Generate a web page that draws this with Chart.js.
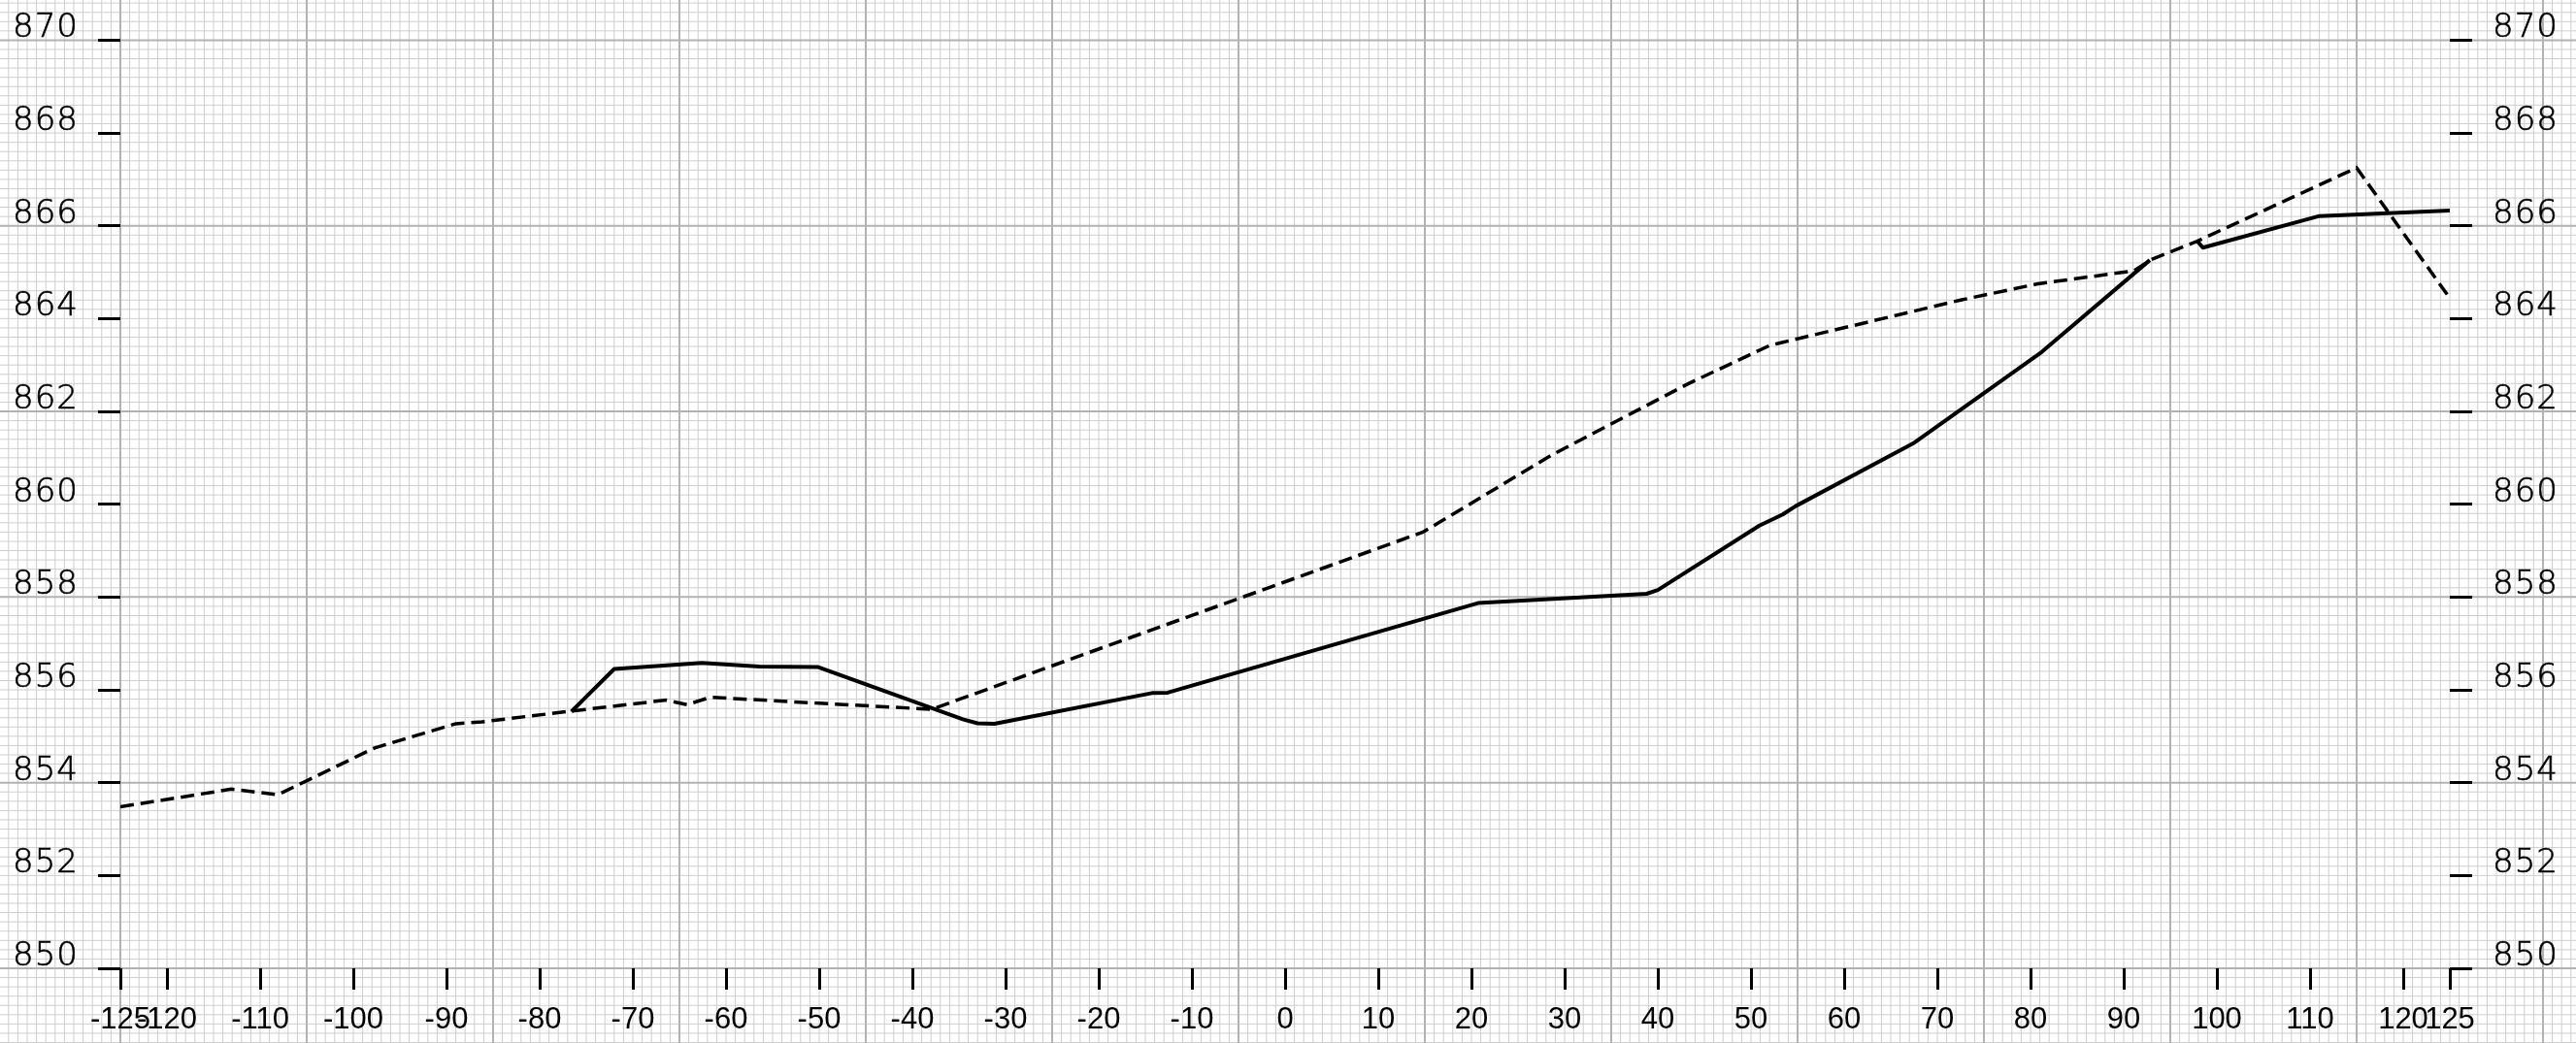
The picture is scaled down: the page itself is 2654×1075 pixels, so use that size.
<!DOCTYPE html>
<html>
<head>
<meta charset="utf-8">
<script src="https://cdn.jsdelivr.net/npm/chart.js@4.4.1/dist/chart.umd.min.js"></script>
<style>
  html, body { margin: 0; padding: 0; background: #fff; }
  #wrap { width: 2654px; height: 1075px; position: relative; }
</style>
</head>
<body>
<div id="wrap"><canvas id="c"></canvas></div>
<script>
// Perfil longitudinal — terreno (tracejado) e projeto (contínuo)
const X_TICKS = [-125, -120, -110, -100, -90, -80, -70, -60, -50, -40, -30, -20, -10, 0,
  10, 20, 30, 40, 50, 60, 70, 80, 90, 100, 110, 120, 125];
const Y_TICKS = [850, 852, 854, 856, 858, 860, 862, 864, 866, 868, 870];

// terreno natural (linha tracejada)
const GROUND_X = [-125, -113.1, -108.1, -97.7, -89.0, -86.2, -76.7, -66.4, -64.2, -61.7, -37.95,
  14.8, 28.7, 43.3, 52.0, 53.0, 72.5, 80.8, 91.1, 92.95, 97.9, 115.0, 125];
const GROUND_Y = [853.48, 853.86, 853.74, 854.75, 855.27, 855.31, 855.54, 855.78, 855.68, 855.84, 855.58,
  859.40, 861.07, 862.60, 863.42, 863.47, 864.40, 864.75, 865.03, 865.27, 865.67, 867.25, 864.44];

// projeto (linha contínua) — null = interrupção
const DESIGN_X = [-76.6, -75.0, -72.0, -62.6, -56.4, -50.1, -34.5, -33.0, -31.2, -14.3, -12.6, -10.9,
  20.7, 38.8, 40.0, 50.9, 53.4, 54.8, 67.4, 81.2, 92.8, 95.0, 97.9, 98.5, 111.0, 125];
const DESIGN_Y = [855.53, 855.85, 856.45, 856.58, 856.50, 856.49, 855.36, 855.28, 855.27, 855.93, 855.94, 856.04,
  857.87, 858.07, 858.15, 859.54, 859.78, 859.96, 861.31, 863.28, 865.26, null, 865.67, 865.53, 866.21, 866.33];

const toPoints = (xs, ys) => xs.map((x, i) => ({ x, y: ys[i] }));

const GRID = { minor: '#cecece', major: '#b2b2b2' };

// papel milimetrado cobrindo todo o canvas
const paperGrid = {
  id: 'paperGrid',
  beforeDraw(chart) {
    const { ctx, width, height } = chart;
    const sx = chart.scales.x, sy = chart.scales.y;
    ctx.save();
    const lines = [];
    for (let v = -150; v <= 150; v++) {
      const p = sx.getPixelForValue(v);
      if (p >= -2 && p <= width + 2) lines.push({ v: true, p, major: (v + 125) % 20 === 0 });
    }
    for (let k = -40; k <= 140; k++) {
      const p = sy.getPixelForValue(850 + k * 0.2);
      if (p >= -2 && p <= height + 2) lines.push({ v: false, p, major: k % 20 === 0 });
    }
    [false, true].forEach(major => {
      ctx.strokeStyle = major ? GRID.major : GRID.minor;
      ctx.lineWidth = major ? 2 : 1;
      ctx.beginPath();
      lines.filter(l => l.major === major).forEach(l => {
        if (l.v) { ctx.moveTo(l.p, 0); ctx.lineTo(l.p, height); }
        else { ctx.moveTo(0, l.p); ctx.lineTo(width, l.p); }
      });
      ctx.stroke();
    });
    ctx.restore();
  },
};

// rótulos das cotas com espaçamento entre letras
const spacedLabels = {
  id: 'spacedLabels',
  beforeDraw(chart) {
    ['y', 'y2'].forEach(id => {
      const s = chart.scales[id];
      if (s._spaced) return;
      const draw = s.drawLabels.bind(s);
      s.drawLabels = area => {
        s.ctx.save();
        s.ctx.letterSpacing = '1px';
        draw(area);
        s.ctx.restore();
      };
      s._spaced = true;
    });
  },
};

const yLabelFont = { family: "'DejaVu Sans', sans-serif", size: 34, weight: 200 };

function yAxis(position, w, pad) {
  return {
    type: 'linear', position, min: 850, max: 870,
    afterBuildTicks: a => { a.ticks = Y_TICKS.map(value => ({ value })); },
    afterFit: s => { s.width = w; },
    border: { display: false },
    grid: { drawOnChartArea: false, drawTicks: true, tickLength: 23, tickWidth: 3, tickColor: '#000' },
    ticks: {
      autoSkip: false, padding: pad, labelOffset: -12, color: '#000', font: yLabelFont,
      textStrokeColor: '#000', textStrokeWidth: 0.6,
    },
  };
}

new Chart(document.getElementById('c'), {
  type: 'line',
  data: {
    datasets: [
      {
        data: toPoints(GROUND_X, GROUND_Y),
        borderColor: '#000', borderWidth: 3.5, borderDash: [14, 7],
        pointRadius: 0, tension: 0, yAxisID: 'y',
      },
      {
        data: toPoints(DESIGN_X, DESIGN_Y),
        borderColor: '#000', borderWidth: 4, borderJoinStyle: 'round',
        pointRadius: 0, tension: 0, spanGaps: false, yAxisID: 'y',
      },
    ],
  },
  options: {
    responsive: true, maintainAspectRatio: false, animation: false,
    layout: { padding: { top: 38, left: 0, right: 0, bottom: 0 } },
    plugins: { legend: { display: false }, tooltip: { enabled: false } },
    scales: {
      x: {
        type: 'linear', position: 'bottom', min: -125, max: 125,
        afterBuildTicks: a => { a.ticks = X_TICKS.map(value => ({ value })); },
        afterFit: s => { s.height = 77; },
        border: { display: false },
        grid: { drawOnChartArea: false, drawTicks: true, tickLength: 22, tickWidth: 3, tickColor: '#000' },
        ticks: {
          autoSkip: false, maxRotation: 0, minRotation: 0, padding: 13, color: '#000',
          font: { family: "'Liberation Sans', Arial, sans-serif", size: 31 },
        },
      },
      y: yAxis('left', 124, 20),
      y2: yAxis('right', 130, 21),
    },
  },
  plugins: [paperGrid, spacedLabels],
});
</script>
</body>
</html>
